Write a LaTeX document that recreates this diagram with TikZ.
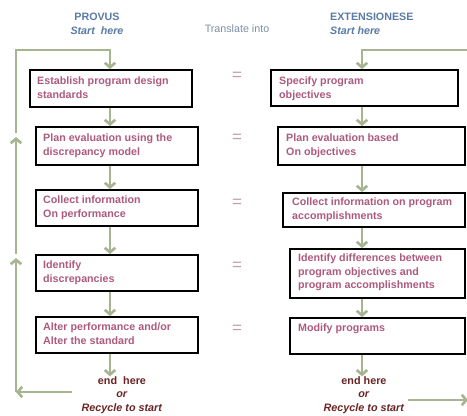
\documentclass[tikz,border=0pt]{standalone}
\usepackage{fontspec}
\setmainfont{Liberation Sans}
\usetikzlibrary{arrows.meta,calc}

\definecolor{boxtext}{HTML}{AE5A7E}
\definecolor{headblue}{HTML}{5A7BA5}
\definecolor{transgray}{HTML}{7D8FA5}
\definecolor{flowgreen}{HTML}{A6B48F}
\definecolor{endred}{HTML}{6B2424}
\definecolor{eqpink}{HTML}{C39BAD}

\begin{document}
\begin{tikzpicture}[x=1pt,y=-1pt,
  stepbox/.style={draw=black,line width=1.8pt,inner sep=0pt,anchor=north west},
  steptext/.style={anchor=north west,inner sep=0pt,align=left,text=boxtext,
    font=\fontsize{10.7}{13.5}\selectfont\bfseries},
  head/.style={text=headblue,font=\fontsize{10.7}{13}\selectfont\bfseries,inner sep=0pt},
  endtext/.style={text=endred,align=center,inner sep=0pt,
    font=\fontsize{10.8}{13.5}\selectfont\bfseries},
  eqsign/.style={text=eqpink,font=\fontsize{17}{17}\selectfont,inner sep=0pt},
  flow/.style={draw=flowgreen,line width=2.6pt,
    -{Straight Barb[length=4.5pt,width=10.5pt]}},
  flowline/.style={draw=flowgreen,line width=2.6pt}]

\useasboundingbox (0,0) rectangle (467,416);
\fill[white] (0,0) rectangle (467,416);

% column headings
\node[head,align=center] (provus) at (97,24)
  {PROVUS\\[1pt]\textit{Start\ \ here}};
\node[text=transgray,font=\fontsize{10.7}{13}\selectfont,inner sep=0pt]
  (transl) at (237,29) {Translate into};
\node[head,align=left,anchor=west] (ext) at (330,24)
  {EXTENSIONESE\\[1pt]\textit{Start here}};

% PROVUS steps
\node[stepbox,minimum width=162pt,minimum height=37pt] (L1) at (29,69) {};
\node[stepbox,minimum width=162pt,minimum height=38pt] (L2) at (35,126) {};
\node[stepbox,minimum width=162pt,minimum height=36pt] (L3) at (35,189) {};
\node[stepbox,minimum width=162pt,minimum height=36pt] (L4) at (35,254) {};
\node[stepbox,minimum width=162pt,minimum height=36pt] (L5) at (35,316) {};

\node[steptext] (L1t) at ($(L1.north west)+(8,8)$) {Establish program design\\standards};
\node[steptext] (L2t) at ($(L2.north west)+(8,8)$) {Plan evaluation using the\\discrepancy model};
\node[steptext] (L3t) at ($(L3.north west)+(8,7)$) {Collect information\\On performance};
\node[steptext] (L4t) at ($(L4.north west)+(8,7)$) {Identify\\discrepancies};
\node[steptext] (L5t) at ($(L5.north west)+(8,7)$) {Alter performance and/or\\Alter the standard};

% EXTENSIONESE steps
\node[stepbox,minimum width=187pt,minimum height=36pt] (R1) at (270,69) {};
\node[stepbox,minimum width=187pt,minimum height=38pt] (R2) at (277,126) {};
\node[stepbox,minimum width=182pt,minimum height=34pt] (R3) at (282,192) {};
\node[stepbox,minimum width=175pt,minimum height=49pt] (R4) at (289,248) {};
\node[stepbox,minimum width=175pt,minimum height=36pt] (R5) at (289,317) {};

\node[steptext] (R1t) at ($(R1.north west)+(9,8)$) {Specify program\\objectives};
\node[steptext] (R2t) at ($(R2.north west)+(9,8)$) {Plan evaluation based\\On objectives};
\node[steptext] (R3t) at ($(R3.north west)+(10,6)$) {Collect information on program\\accomplishments};
\node[steptext] (R4t) at ($(R4.north west)+(9,6)$) {Identify differences between\\program objectives and\\program accomplishments};
\node[steptext] (R5t) at ($(R5.north west)+(9,7)$) {Modify programs};

% equivalence signs
\node[eqsign] (eq1) at (237,76) {=};
\node[eqsign] (eq2) at (237,138) {=};
\node[eqsign] (eq3) at (237,203) {=};
\node[eqsign] (eq4) at (237,266) {=};
\node[eqsign] (eq5) at (237,329) {=};

% endings
\node[endtext] (E1) at (122,395) {end\ \ here\\\textit{or}\\\textit{Recycle to start}};
\node[endtext] (E2) at (364,395) {end here\\\textit{or}\\\textit{Recycle to start}};

% arrow columns
\coordinate (lx) at (110,0);
\coordinate (rx) at (362,0);

\draw[flow] (L1.south -| lx) -- (L2.north -| lx);
\draw[flow] (L2.south -| lx) -- (L3.north -| lx);
\draw[flow] (L3.south -| lx) -- (L4.north -| lx);
\draw[flow] (L4.south -| lx) -- (L5.north -| lx);
\draw[flow] (L5.south -| lx) -- (E1.north -| lx);

\draw[flow] (R1.south -| rx) -- (R2.north -| rx);
\draw[flow] (R2.south -| rx) -- (R3.north -| rx);
\draw[flow] (R3.south -| rx) -- (R4.north -| rx);
\draw[flow] (R4.south -| rx) -- (R5.north -| rx);
\draw[flow] (R5.south -| rx) -- (E2.north -| rx);

% recycle loop, left side
\coordinate (lb0) at (72,392);
\coordinate (lb1) at (16,392);
\coordinate (lb2) at (16,258);
\coordinate (lb3) at (16,254);
\coordinate (lb4) at (16,137);
\coordinate (lb5) at (16,133);
\coordinate (lt) at (16,50);
\draw[flow] (lb0) -- (lb1);
\draw[flow] (lb1) -- (lb2);
\draw[flow] (lb3) -- (lb4);
\draw[flow] (lb5) -- (lt) -| (L1.north -| lx);

% recycle loop, right side
\coordinate (rt) at (470,50);
\coordinate (rb0) at (408,400);
\coordinate (rb1) at (468,400);
\draw[flow] (rt) -| (R1.north -| rx);
\draw[flow] (rb0) -- (rb1);

\end{tikzpicture}
\end{document}
